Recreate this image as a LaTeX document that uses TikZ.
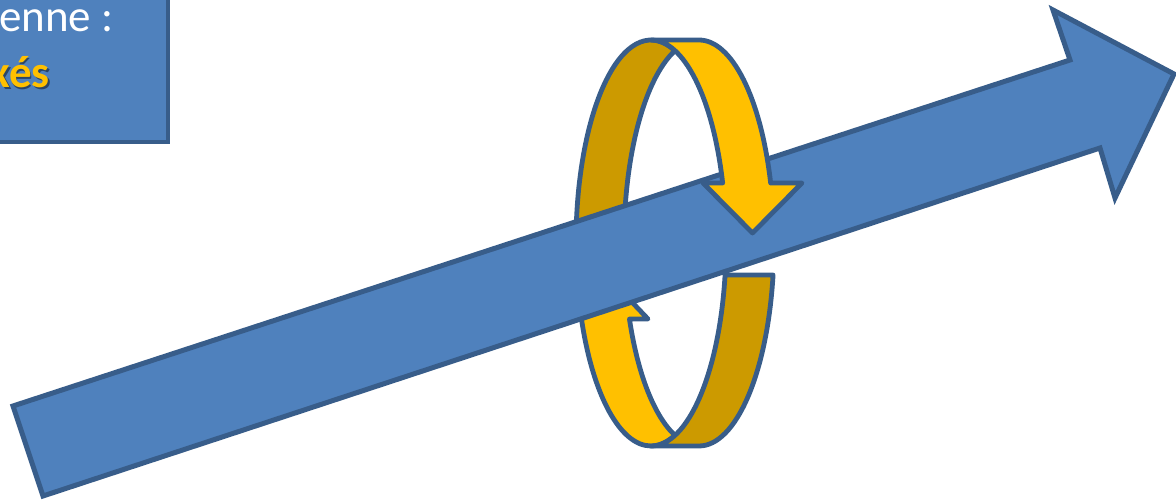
\documentclass[tikz,border=0pt]{standalone}
\usepackage{fontspec}
\setmainfont{Carlito}
\definecolor{bfill}{HTML}{4F81BD}
\definecolor{bline}{HTML}{385D8A}
\definecolor{gold}{HTML}{FFC000}
\definecolor{dgold}{HTML}{CC9A00}
\tikzset{
  blueshape/.style={fill=bfill, draw=bline, line width=5pt, line join=miter},
  ringfront/.style={fill=gold, draw=bline, line width=4.8pt, line join=round},
  ringback/.style={fill=dgold, draw=bline, line width=4.8pt, line join=round},
  ell/.style={x radius=75, y radius=203},
  boxtext/.style={inner sep=0pt, font=\fontsize{45}{50}\selectfont}
}
\begin{document}
\begin{tikzpicture}[x=1pt,y=1pt]
\useasboundingbox (0,0) rectangle (1176,500);
\clip (0,0) rectangle (1176,500);
% text box (cut by the picture edge)
\fill[black,opacity=0.35] (-28,356) rectangle (170,532);
\draw[blueshape, line width=3.5pt] (-30,358) rectangle (168,530);
\node[boxtext, text=white, anchor=base west] (l1) at (-1,468) {enne :};
\node[boxtext, text=black, opacity=0.45, anchor=base east, font=\fontsize{45}{50}\selectfont\bfseries] (l2s) at (51.5,410.5) {xés};
\node[boxtext, text=gold, anchor=base east, font=\fontsize{45}{50}\selectfont\bfseries] (l2) at (50,412) {xés};
% ring: back parts under the big arrow
\draw[ringback] (576.26,240.01) arc[start angle=184.8, end angle=71.34, ell]
  arc[start angle=108.66, end angle=184.8, ell] -- cycle;
\draw[ringfront] (651,54) arc[start angle=270, end angle=201.99, ell]
  -- (553,181) -- (600.5,231) -- (648,181) -- (629.45,181)
  arc[start angle=201.99, end angle=251.34, ell]
  arc[start angle=288.66, end angle=270, ell] -- cycle;
\draw[ringback] (725.06,225) arc[start angle=350.93, end angle=270, ell]
  -- (699,54) arc[start angle=270, end angle=350.93, ell] -- cycle;
% big arrow
\draw[blueshape] (13,94) -- (1070,440) -- (1053,490) -- (1174,426)
  -- (1115,302) -- (1100,352) -- (43,4) -- cycle;
% ring: front part over the big arrow
\draw[ringfront] (651,460) -- (699,460) arc[start angle=90, end angle=17.19, ell]
  -- (802,317) -- (752.5,267) -- (703,317) -- (722.65,317)
  arc[start angle=17.19, end angle=90, ell] -- cycle;
\end{tikzpicture}
\end{document}
